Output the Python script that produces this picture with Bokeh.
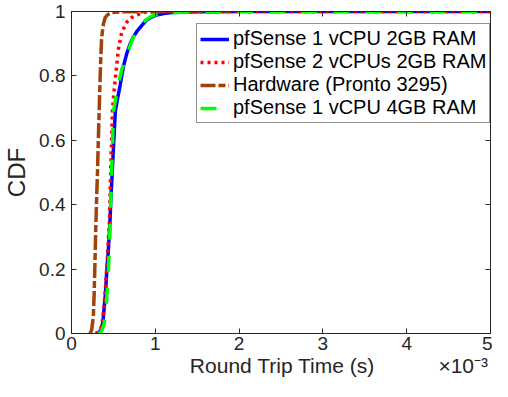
from bokeh.plotting import figure
from bokeh.models import Range1d, FixedTicker, NumeralTickFormatter, LinearAxis
from bokeh.embed import file_html
from bokeh.resources import INLINE

# Round trip time in units of 1e-3 s, CDF values
rtt_1cpu_2gb = [0.29, 0.32, 0.35, 0.375, 0.39, 0.406, 0.42, 0.44, 0.457, 0.47, 0.488, 0.505, 0.523,
                0.55, 0.58, 0.62, 0.66, 0.70, 0.74, 0.78, 0.84, 0.89, 0.95, 1.0, 1.1, 1.2, 1.5, 2.0, 5.0]
cdf_1cpu_2gb = [0.0, 0.003, 0.01, 0.035, 0.08, 0.128, 0.19, 0.26, 0.335, 0.42, 0.51, 0.60, 0.69,
                0.73, 0.77, 0.83, 0.87, 0.90, 0.922, 0.938, 0.957, 0.972, 0.982, 0.988, 0.994, 0.997, 0.999, 1.0, 1.0]

rtt_2cpu_2gb = [0.29, 0.32, 0.35, 0.37, 0.39, 0.405, 0.42, 0.435, 0.45, 0.46, 0.468, 0.478, 0.488,
                0.51, 0.53, 0.56, 0.60, 0.66, 0.71, 0.76, 0.875, 1.0, 1.5, 5.0]
cdf_2cpu_2gb = [0.0, 0.003, 0.015, 0.04, 0.09, 0.14, 0.2, 0.27, 0.335, 0.42, 0.51, 0.60, 0.69,
                0.76, 0.81, 0.884, 0.936, 0.967, 0.98, 0.988, 0.998, 0.999, 1.0, 1.0]

rtt_hardware = [0.22, 0.24, 0.26, 0.27, 0.28, 0.29, 0.30, 0.31, 0.32, 0.33, 0.34, 0.35, 0.36,
                0.38, 0.40, 0.43, 0.48, 0.6, 1.0, 1.9]
cdf_hardware = [0.0, 0.01, 0.05, 0.12, 0.22, 0.33, 0.42, 0.50, 0.60, 0.69, 0.78, 0.86, 0.92,
                0.96, 0.98, 0.99, 0.997, 0.999, 1.0, 1.0]

rtt_1cpu_4gb = [0.32, 0.35, 0.37, 0.39, 0.41, 0.425, 0.44, 0.45, 0.46, 0.473, 0.487, 0.50, 0.55,
                0.60, 0.66, 0.72, 0.77, 0.82, 0.88, 0.95, 1.0, 1.1, 1.3, 1.6, 5.0]
cdf_1cpu_4gb = [0.0, 0.005, 0.015, 0.03, 0.07, 0.128, 0.19, 0.26, 0.33, 0.45, 0.57, 0.69, 0.76,
                0.82, 0.863, 0.91, 0.935, 0.956, 0.972, 0.985, 0.99, 0.995, 0.998, 1.0, 1.0]

x_ticks = [0, 1, 2, 3, 4, 5]
y_ticks = [0, 0.2, 0.4, 0.6, 0.8, 1]
x_title = "Round Trip Time (s)"
x_exponent = "×10⁻³"

FONT = "Liberation Sans"
TXT = "#262626"
NB = "\u00a0"

# x label on one row: title centred under the data, exponent at the right end
x_label = NB * 20 + x_title + NB * 11 + x_exponent

p = figure(width=492, height=381, x_range=Range1d(0, 5), y_range=Range1d(0, 1),
           output_backend="svg", toolbar_location=None,
           min_border_left=68, min_border_right=2, min_border_top=11, min_border_bottom=48,
           x_axis_label=x_label, y_axis_label="CDF")

p.line(rtt_1cpu_2gb, cdf_1cpu_2gb, line_color="#0000FF", line_width=3.5,
       legend_label="pfSense 1 vCPU 2GB RAM")
p.line(rtt_2cpu_2gb, cdf_2cpu_2gb, line_color="#FF0000", line_width=3.5, line_dash="3 4",
       legend_label="pfSense 2 vCPUs 2GB RAM")
p.line(rtt_hardware, cdf_hardware, line_color="#A0420A", line_width=3.5, line_dash="15 3 7 3",
       legend_label="Hardware (Pronto 3295)")
p.line(rtt_1cpu_4gb, cdf_1cpu_4gb, line_color="#00FF00", line_width=3.5, line_dash="16 16",
       legend_label="pfSense 1 vCPU 4GB RAM")

p.grid.visible = False
p.outline_line_color = TXT
p.outline_line_width = 1

for ax in (p.xaxis[0], p.yaxis[0]):
    ax.axis_line_color = TXT
    ax.major_tick_line_color = TXT
    ax.major_tick_in = 5
    ax.major_tick_out = 0
    ax.minor_tick_line_color = None
    ax.major_label_text_font = FONT
    ax.major_label_text_color = TXT
    ax.major_label_text_font_size = "19px"
    ax.axis_label_text_font = FONT
    ax.axis_label_text_color = TXT
    ax.axis_label_text_font_style = "normal"

p.xaxis[0].ticker = FixedTicker(ticks=x_ticks)
p.yaxis[0].ticker = FixedTicker(ticks=y_ticks)
p.yaxis[0].formatter = NumeralTickFormatter(format="0.[0]")
p.xaxis[0].axis_label_text_font_size = "21px"
p.yaxis[0].axis_label_text_font_size = "24px"
p.xaxis[0].major_label_standoff = 3
p.yaxis[0].major_label_standoff = 6
p.xaxis[0].axis_label_standoff = 1
p.yaxis[0].axis_label_standoff = 6

for loc, ticks in (("right", y_ticks), ("above", x_ticks)):
    ax = LinearAxis(ticker=FixedTicker(ticks=ticks), major_label_text_font_size="0px",
                    major_label_standoff=0, axis_line_color=TXT, major_tick_line_color=TXT,
                    major_tick_in=5, major_tick_out=0, minor_tick_line_color=None)
    p.add_layout(ax, loc)

lg = p.legend[0]
lg.location = (125, 210)
lg.margin = 0
lg.padding = 3
lg.spacing = 0
lg.glyph_width = 29
lg.glyph_height = 20
lg.label_height = 20
lg.label_standoff = 4
lg.label_text_font = FONT
lg.label_text_font_size = "20px"
lg.label_text_color = "#000000"
lg.border_line_color = TXT
lg.border_line_width = 1
lg.background_fill_alpha = 1.0

open("out.html", "w").write(file_html(p, INLINE))
